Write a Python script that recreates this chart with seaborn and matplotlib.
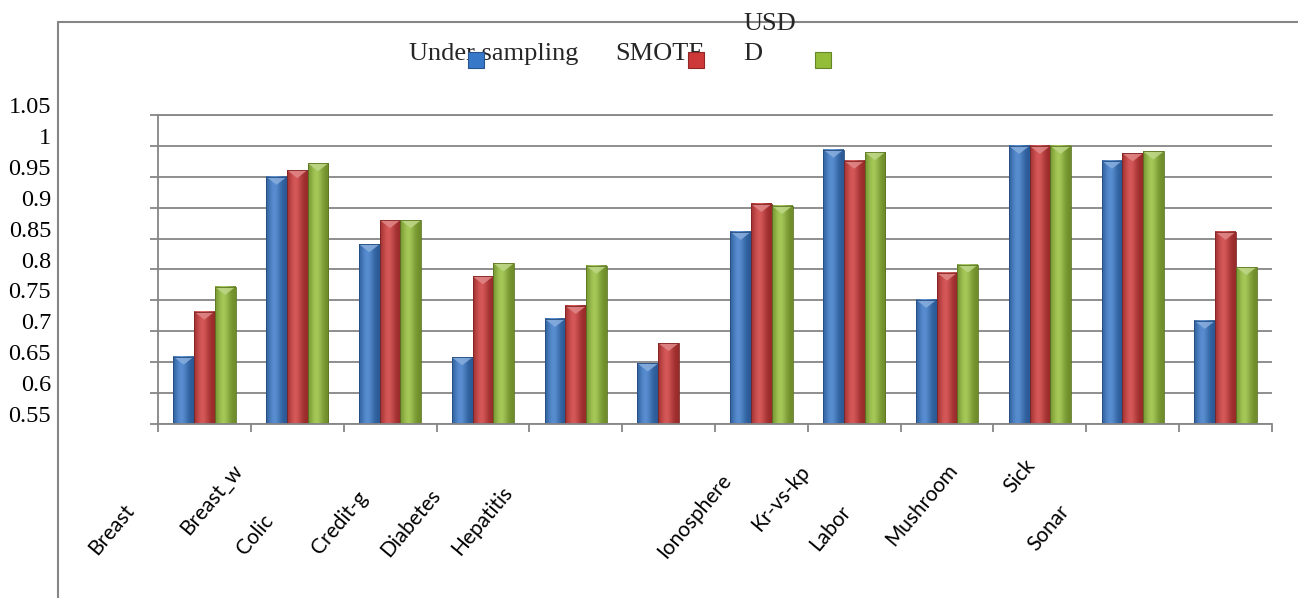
import numpy as np
import pandas as pd
import matplotlib
matplotlib.use("Agg")
import matplotlib.pyplot as plt
import matplotlib.colors as mcolors
import seaborn as sns
from matplotlib.transforms import ScaledTranslation
from matplotlib.patches import Polygon, Rectangle
from matplotlib.lines import Line2D

# valeurs
datasets = ["Breast", "Breast_w", "Colic", "Credit-g", "Diabetes", "Hepatitis",
            "Ionosphere", "Kr-vs-kp", "Labor", "Mushroom", "Sick", "Sonar"]
methods = ["Under sampling", "SMOTE", "USDD"]
under_sampling = [0.659, 0.950, 0.841, 0.658, 0.720, 0.648, 0.861, 0.994, 0.751, 1.0, 0.976, 0.717]
smote = [0.732, 0.961, 0.880, 0.789, 0.741, 0.681, 0.906, 0.976, 0.795, 1.0, 0.988, 0.861]
usdd = [0.772, 0.972, 0.880, 0.810, 0.806, np.nan, 0.903, 0.990, 0.808, 1.0, 0.991, 0.804]
yticks = [0.55, 0.6, 0.65, 0.7, 0.75, 0.8, 0.85, 0.9, 0.95, 1.0, 1.05]
ytick_labels = ["0.55", "0.6", "0.65", "0.7", "0.75", "0.8", "0.85", "0.9", "0.95", "1", "1.05"]

colors = ["#3878c8", "#cd3838", "#93bd38"]
grey = "#868686"
ymin, ymax = 0.55, 1.05

# decalage des etiquettes x (pixels) comme dans l'original
label_dx = [-74, -59, -120, -119, -139, -160, -34, -48, -100, -86, -101, -160]
label_dy = [83, 43, 93, 70, 68, 65, 53, 44, 84, 43, 38, 84]

df = pd.DataFrame({
    "dataset": datasets * 3,
    "method": np.repeat(methods, len(datasets)),
    "score": under_sampling + smote + usdd,
})

sns.set_theme(style="white")
W, H = 1298, 598
fig = plt.figure(figsize=(W / 100, H / 100), dpi=100)
ax = fig.add_axes([158 / W, 1 - 424 / H, (1272 - 158) / W, (424 - 115) / H])

sns.barplot(data=df, x="dataset", y="score", hue="method", hue_order=methods,
            palette=colors, saturation=1, width=0.67, errorbar=None,
            legend=False, ax=ax)


def shade(c, f):
    c = np.array(mcolors.to_rgb(c))
    return np.clip(c * f, 0, 1)


def lighten(c, a):
    c = np.array(mcolors.to_rgb(c))
    return c + (1 - c) * a


# degrade horizontal + chevron en haut de chaque barre (style Excel)
t = np.linspace(0, 1, 40)
g = np.exp(-((t - 0.4) / 0.32) ** 2)
for container, col in zip(ax.containers, colors):
    base = np.array(mcolors.to_rgb(col))
    grad = base[None, :] * (0.74 + 0.26 * g[:, None]) + (1 - base[None, :]) * 0.16 * g[:, None]
    grad = np.clip(grad, 0, 1)[None, :, :]
    for bar in container:
        h = bar.get_height()
        if not np.isfinite(h) or h == 0:
            continue
        x0, w = bar.get_x(), bar.get_width()
        top = bar.get_y() + h
        ax.imshow(grad, extent=[x0, x0 + w, max(bar.get_y(), ymin), top],
                  aspect="auto", interpolation="bilinear", zorder=1.5)
        chev = Polygon([[x0, top], [x0 + w, top], [x0 + w / 2, top - 0.013]],
                       closed=True, facecolor=lighten(col, 0.4), edgecolor="none",
                       alpha=0.85, zorder=1.8)
        ax.add_patch(chev)
        bar.set_facecolor("none")
        bar.set_edgecolor(shade(col, 0.62))
        bar.set_linewidth(0.6)
        bar.set_zorder(2)

ax.set_xlim(-0.5, len(datasets) - 0.5)
ax.set_ylim(ymin, ymax)
ax.set_xlabel("")
ax.set_ylabel("")

ax.set_axisbelow(True)
ax.yaxis.grid(True, color=grey, linewidth=1.3)
ax.xaxis.grid(False)
for side in ["left", "bottom", "top"]:
    ax.spines[side].set_visible(True)
    ax.spines[side].set_color(grey)
    ax.spines[side].set_linewidth(1.3)
ax.spines["right"].set_visible(False)

ax.set_yticks(yticks, ytick_labels)
ax.tick_params(axis="y", direction="out", length=6, width=1.3, color=grey,
               pad=71, labelsize=17.5, labelcolor="black", left=True)
for lbl in ax.get_yticklabels():
    lbl.set_fontfamily("Liberation Serif")
    lbl.set_transform(lbl.get_transform() + ScaledTranslation(0, 0.10, fig.dpi_scale_trans))

ax.set_xticks(range(len(datasets)), datasets)
ax.set_xticks(np.arange(-0.5, len(datasets), 1), minor=True)
ax.tick_params(axis="x", which="major", length=0, pad=0, labelsize=15, labelcolor="black")
ax.tick_params(axis="x", which="minor", direction="out", length=6, width=1.3,
               color=grey, bottom=True)
for lbl, dx, dy in zip(ax.get_xticklabels(), label_dx, label_dy):
    lbl.set_fontfamily("Lato")
    lbl.set_rotation(50)
    lbl.set_rotation_mode("anchor")
    lbl.set_ha("right")
    lbl.set_va("center")
    lbl.set_transform(lbl.get_transform() + ScaledTranslation(dx / 100, -dy / 100, fig.dpi_scale_trans))

# cadre exterieur partiel
fig.add_artist(Line2D([58 / W, 1], [1 - 22 / H, 1 - 22 / H], color=grey, lw=1.5))
fig.add_artist(Line2D([58 / W, 58 / W], [0, 1 - 22 / H], color=grey, lw=1.5))

# legende (texte et carres decales comme dans l'original)
serif = "Liberation Serif"
fig.text(409 / W, 1 - 60 / H, "Under sampling", fontsize=19, family=serif, va="baseline")
fig.text(615 / W, 1 - 60 / H, "SMOTE", fontsize=19, family=serif, va="baseline")
fig.text(743 / W, 1 - 30 / H, "USD", fontsize=19, family=serif, va="baseline")
fig.text(743 / W, 1 - 60 / H, "D", fontsize=19, family=serif, va="baseline")
for x_px, col in zip([468, 688, 815], colors):
    fig.add_artist(Rectangle((x_px / W, 1 - 68 / H), 16 / W, 16 / H,
                             facecolor=col, edgecolor=shade(col, 0.7), lw=0.8, zorder=5))

fig.savefig("out.png", dpi=100)
